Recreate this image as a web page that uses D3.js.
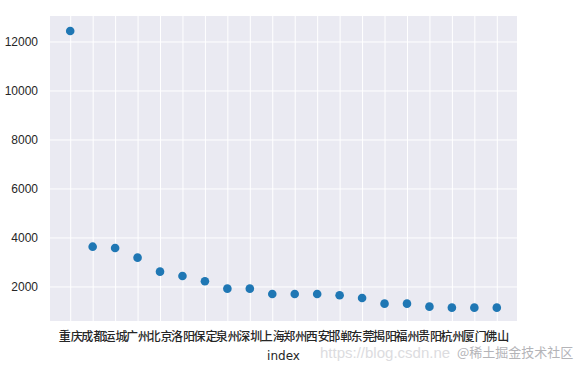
<!DOCTYPE html>
<html>
<head>
<meta charset="utf-8">
<script src="https://cdn.jsdelivr.net/npm/d3@7"></script>
<style>
  html, body { margin: 0; padding: 0; background: #ffffff; }
  svg { display: block; }
</style>
</head>
<body>
<svg id="chart" width="577" height="371"></svg>
<script>
const cities = ["重庆","成都","运城","广州","北京","洛阳","保定","泉州","深圳","上海",
                "郑州","西安","邯郸","东莞","揭阳","福州","贵阳","杭州","厦门","佛山"];
const counts = [12430, 3624, 3571, 3176, 2604, 2429, 2212, 1910, 1910, 1694,
                1694, 1694, 1640, 1531, 1298, 1298, 1176, 1135, 1135, 1135];
const yTicks = [2000, 4000, 6000, 8000, 10000, 12000];
const yDomain = [590, 13040];
const xLabel = "index";
const watermarkA = "https://blog.csdn.ne";
const watermarkB = "@稀土掘金技术社区";

const svg = d3.select("#chart");
const plot = { left: 50, right: 517, top: 16, bottom: 321 };

const x = d3.scalePoint().domain(cities).range([plot.left, plot.right]).padding(0.9);
const y = d3.scaleLinear().domain(yDomain).range([plot.bottom, plot.top]);

svg.append("rect")
  .attr("x", plot.left).attr("y", plot.top)
  .attr("width", plot.right - plot.left).attr("height", plot.bottom - plot.top)
  .attr("fill", "#EAEAF2");

// grid
const gx = svg.append("g").attr("transform", `translate(0,${plot.bottom})`)
  .call(d3.axisBottom(x).tickSize(-(plot.bottom - plot.top)).tickFormat(""));
gx.select(".domain").remove();
gx.selectAll(".tick line").attr("stroke", "#ffffff").attr("stroke-width", 1);

const gy = svg.append("g").attr("transform", `translate(${plot.left},0)`)
  .call(d3.axisLeft(y).tickValues(yTicks).tickFormat(d3.format("d"))
        .tickSize(-(plot.right - plot.left)).tickPadding(12));
gy.select(".domain").remove();
gy.selectAll(".tick line").attr("stroke", "#ffffff").attr("stroke-width", 1);
gy.selectAll(".tick text")
  .attr("fill", "#262626")
  .style("font-family", "'Liberation Sans', Arial, sans-serif")
  .style("font-size", "12px");

// x labels
const gxl = svg.append("g").attr("transform", `translate(0,${plot.bottom})`)
  .call(d3.axisBottom(x).tickSize(0).tickPadding(11));
gxl.select(".domain").remove();
gxl.selectAll(".tick text")
  .attr("fill", "#262626")
  .style("font-family", "'Noto Sans CJK SC', sans-serif")
  .style("font-weight", "500")
  .style("font-size", "12px");

// points
svg.append("g").selectAll("circle")
  .data(cities.map((c, i) => ({ c, v: counts[i] })))
  .join("circle")
  .attr("cx", d => x(d.c))
  .attr("cy", d => y(d.v))
  .attr("r", 4.3)
  .attr("fill", "#1f77b4");

svg.append("text")
  .attr("x", (plot.left + plot.right) / 2).attr("y", 360)
  .attr("text-anchor", "middle")
  .attr("fill", "#262626")
  .style("font-family", "'DejaVu Sans', sans-serif")
  .style("font-size", "12px")
  .text(xLabel);

svg.append("text")
  .attr("x", 320).attr("y", 358)
  .attr("fill", "#dcdce0")
  .style("font-family", "'Liberation Sans', Arial, sans-serif")
  .style("font-size", "15px")
  .text(watermarkA);
svg.append("text")
  .attr("x", 457).attr("y", 357)
  .attr("fill", "#b4b4b8")
  .style("font-family", "'Noto Sans CJK SC', sans-serif")
  .style("font-size", "13px")
  .text(watermarkB);
</script>
</body>
</html>
